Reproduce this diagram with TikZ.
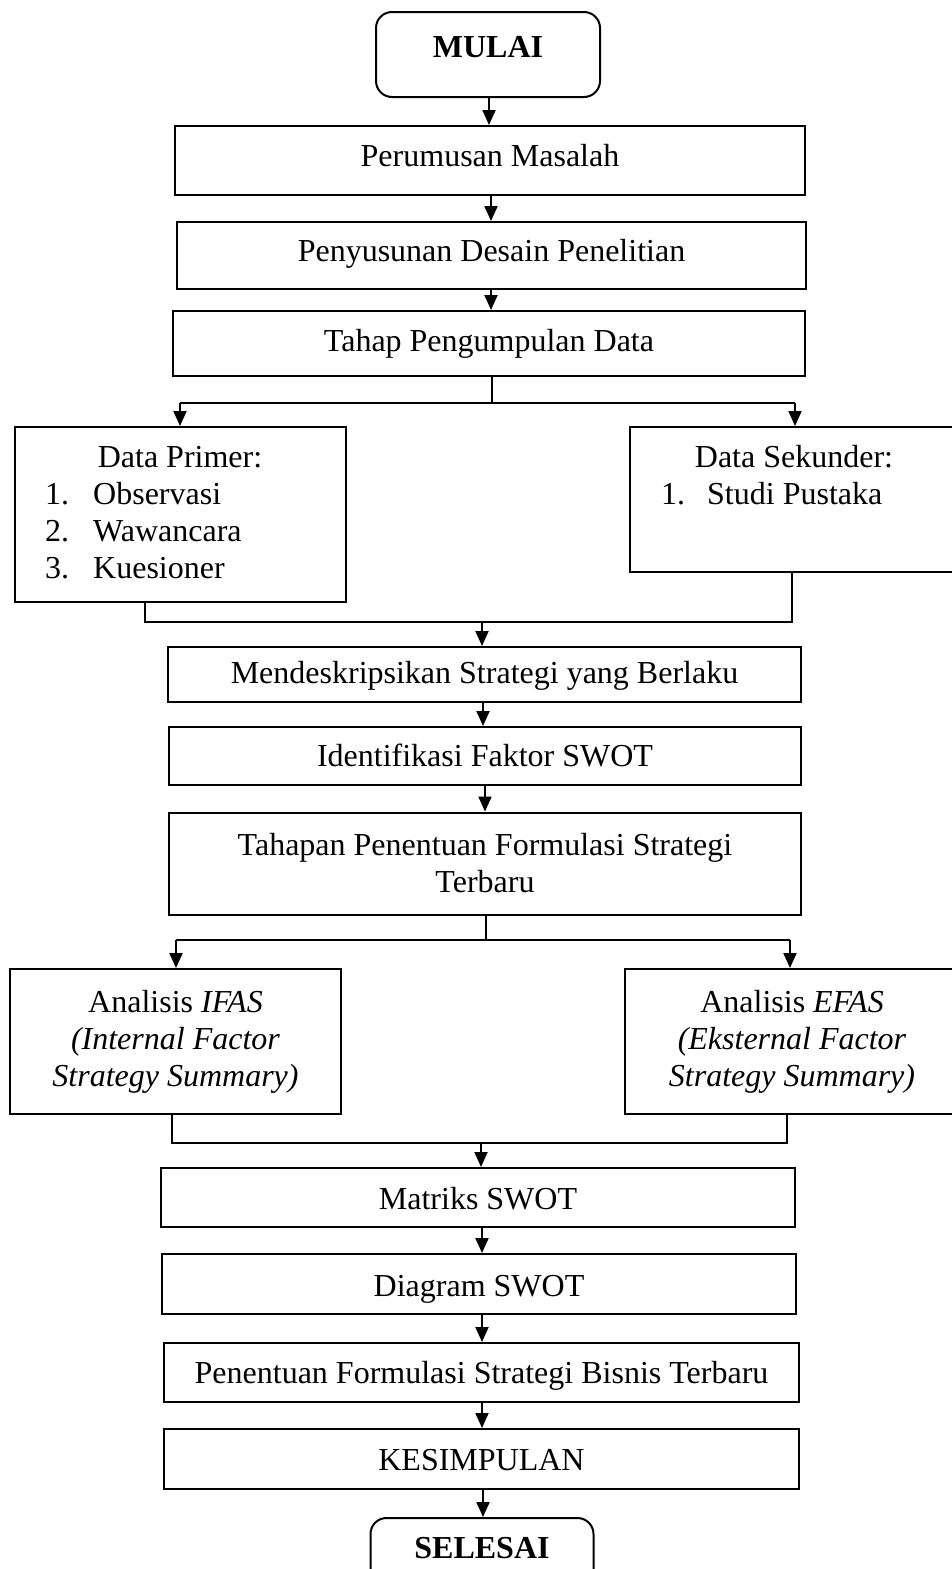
\documentclass[tikz,border=0pt]{standalone}
\usepackage{fontspec}
\setmainfont{Liberation Serif}
\usetikzlibrary{arrows.meta}
\begin{document}
\begin{tikzpicture}[x=1pt,y=-1pt,
  every node/.style={font=\fontsize{32pt}{37pt}\selectfont},
  box/.style={draw, line width=2pt, inner sep=0pt},
  sh/.style={text height={14pt+#1}, text depth={14pt-#1}},
  mbox/.style={draw, line width=2pt, inner sep=0pt, align=center},
  term/.style={draw, line width=2pt, rounded corners=16pt, inner sep=0pt, font=\fontsize{32pt}{37pt}\selectfont\bfseries},
  conn/.style={line width=2pt},
  arr/.style={line width=2pt, -{Triangle[length=15pt,width=13pt]}},
  lbl/.style={anchor=base west, inner sep=0pt},
  ctr/.style={anchor=base, inner sep=0pt}
]
\useasboundingbox (0,0) rectangle (952,1569);

% terminals and boxes
\node[term, sh=2.5pt, minimum width=224pt, minimum height=85pt] (mulai) at (488,54.5) {MULAI};
\node[box, sh=5.5pt, minimum width=630pt, minimum height=69pt] (p1) at (490,160.5) {Perumusan Masalah};
\node[box, sh=6pt, minimum width=629pt, minimum height=67pt] (p2) at (491.5,255.5) {Penyusunan Desain Penelitian};
\node[box, sh=8pt, minimum width=632pt, minimum height=65pt] (p3) at (489,343.5) {Tahap Pengumpulan Data};

\node[box, minimum width=331pt, minimum height=175pt] (prim) at (180.5,514.5) {};
\node[box, minimum width=330pt, minimum height=145pt] (sek) at (795,499.5) {};
\node[ctr] (primt) at (180,467) {Data Primer:};
\node[lbl] (pr1) at (45,504) {\makebox[48pt][l]{1.}Observasi};
\node[lbl] (pr2) at (45,541) {\makebox[48pt][l]{2.}Wawancara};
\node[lbl] (pr3) at (45,578) {\makebox[48pt][l]{3.}Kuesioner};
\node[ctr] (sekt) at (794,467) {Data Sekunder:};
\node[lbl] (se1) at (661,504) {\makebox[46pt][l]{1.}Studi Pustaka};

\node[box, sh=9pt, minimum width=633pt, minimum height=55pt] (desk) at (484.5,674.5) {Mendeskripsikan Strategi yang Berlaku};
\node[box, sh=10.5pt, minimum width=632pt, minimum height=58pt] (iden) at (485,756) {Identifikasi Faktor SWOT};
\node[mbox, minimum width=632pt, minimum height=102pt] (tah) at (485,863.5) {Tahapan Penentuan Formulasi Strategi\\Terbaru};

\node[mbox, minimum width=331pt, minimum height=145pt] (ifas) at (175.5,1041.5) {Analisis \textit{IFAS}\\\textit{(Internal Factor}\\\textit{Strategy Summary)}};
\node[mbox, minimum width=334pt, minimum height=145pt] (efas) at (792,1041.5) {Analisis \textit{EFAS}\\\textit{(Eksternal Factor}\\\textit{Strategy Summary)}};

\node[box, sh=11.5pt, minimum width=634pt, minimum height=59pt] (mat) at (478,1197.5) {Matriks SWOT};
\node[box, sh=12pt, minimum width=634pt, minimum height=60pt] (dia) at (479,1284) {Diagram SWOT};
\node[box, sh=10.5pt, minimum width=635pt, minimum height=59pt] (pen) at (481.5,1372.5) {Penentuan Formulasi Strategi Bisnis Terbaru};
\node[box, sh=11pt, minimum width=635pt, minimum height=60pt] (kes) at (481.5,1459) {KESIMPULAN};
\node[term, sh=5pt, minimum width=223pt, minimum height=70pt] (sel) at (482,1553) {SELESAI};

% connectors
\draw[arr] (mulai.south -| 489,0) -- (p1.north -| 489,0);
\draw[arr] (p1.south -| 491,0) -- (p2.north -| 491,0);
\draw[arr] (p2.south -| 491,0) -- (p3.north -| 491,0);

\coordinate (b1) at (492,403);
\coordinate (bL) at (180,403);
\coordinate (bR) at (795,403);
\draw[line width=1.4pt] (p3.south -| b1) -- (b1);
\draw[conn] (bL) -- (bR);
\draw[arr] (bL) -- (bL |- prim.north);
\draw[arr] (bR) -- (bR |- sek.north);

\coordinate (m1) at (145,622);
\coordinate (m2) at (792,622);
\coordinate (mA) at (482,622);
\draw[conn] (m1 |- prim.south) -- (m1) -- (m2) -- (m2 |- sek.south);
\draw[arr] (mA) -- (mA |- desk.north);

\draw[arr] (desk.south -| 483,0) -- (iden.north -| 483,0);
\draw[arr] (iden.south -| 485,0) -- (tah.north -| 485,0);

\coordinate (c1) at (486,940);
\coordinate (cL) at (176,940);
\coordinate (cR) at (790,940);
\draw[line width=1.4pt] (tah.south -| c1) -- (c1);
\draw[conn] (cL) -- (cR);
\draw[arr] (cL) -- (cL |- ifas.north);
\draw[arr] (cR) -- (cR |- efas.north);

\coordinate (n1) at (172,1143);
\coordinate (n2) at (787,1143);
\coordinate (nA) at (481,1143);
\draw[conn] (n1 |- ifas.south) -- (n1) -- (n2) -- (n2 |- efas.south);
\draw[arr] (nA) -- (nA |- mat.north);

\draw[arr] (mat.south -| 482,0) -- (dia.north -| 482,0);
\draw[arr] (dia.south -| 482,0) -- (pen.north -| 482,0);
\draw[arr] (pen.south -| 482,0) -- (kes.north -| 482,0);
\draw[arr] (kes.south -| 483,0) -- (sel.north -| 483,0);
\end{tikzpicture}
\end{document}
